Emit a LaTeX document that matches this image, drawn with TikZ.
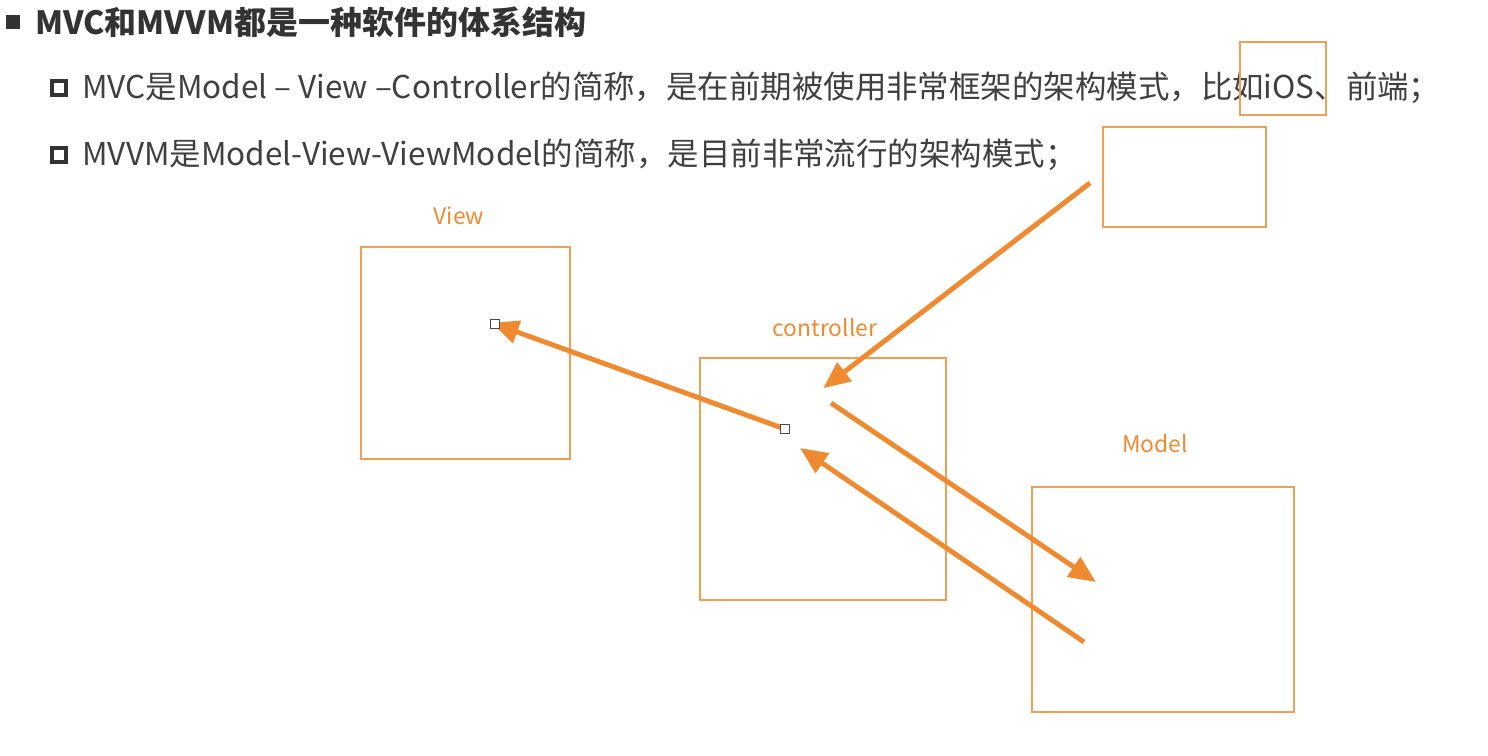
\documentclass[tikz,border=0pt]{standalone}
\usepackage{fontspec}
\setmainfont{Noto Sans CJK SC}
\usetikzlibrary{arrows.meta}
\definecolor{boxorange}{HTML}{F0A050}
\definecolor{arroworange}{HTML}{F08A30}
\definecolor{textgray}{HTML}{404040}
\tikzset{
  box/.style={draw=boxorange, line width=1.3pt, inner sep=0pt},
  boxlabel/.style={text=arroworange, font=\fontsize{13}{15}\selectfont, inner sep=0pt},
  flow/.style={draw=arroworange, line width=2.8pt,
    -{Triangle[length=0.54cm,width=0.46cm]}, shorten >=-2pt},
  bullet/.style={anchor=west, text=textgray, font=\fontsize{17.9}{21}\selectfont, inner sep=0pt},
  handle/.style={draw=black!70, fill=white, line width=0.5pt, minimum size=5pt, inner sep=0pt}
}
\begin{document}
\begin{tikzpicture}[x=0.02cm, y=-0.02cm]
    \useasboundingbox (0,0) rectangle (1488,756);

    % heading and the two points
    \fill[black!80] (6,15) rectangle (20,29);
    \node[bullet, text=black!80, font=\fontsize{18.2}{21}\selectfont\bfseries] (title) at (35,22) {MVC和MVVM都是一种软件的体系结构};
    \draw[black!80, line width=1.8pt] (52,81) rectangle (66,95);
    \node[bullet] (mvc) at (82,88) {MVC是Model – View –Controller的简称，是在前期被使用非常框架的架构模式，比如iOS、前端；};
    \draw[black!80, line width=1.8pt] (52,148) rectangle (66,162);
    \node[bullet] (mvvm) at (82,155) {MVVM是Model-View-ViewModel的简称，是目前非常流行的架构模式；};

    % boxes
    \node[box, minimum width=1.72cm, minimum height=1.46cm] (ios) at (1283,78.5) {};
    \node[box, minimum width=3.26cm, minimum height=2.0cm] (extra) at (1184.5,177) {};
    \node[box, minimum width=4.18cm, minimum height=4.24cm] (view) at (465.5,353) {};
    \node[box, minimum width=4.92cm, minimum height=4.84cm] (controller) at (823,479) {};
    \node[box, minimum width=5.24cm, minimum height=4.5cm] (model) at (1163,599.5) {};

    \node[boxlabel] (viewlabel) at (459,216) {View};
    \node[boxlabel] (controllerlabel) at (825,328) {controller};
    \node[boxlabel] (modellabel) at (1155,444) {Model};

    % arrow ends
    \coordinate (a1) at (1090,183);
    \coordinate (a2) at (826,386);
    \coordinate (b1) at (785,429);
    \coordinate (b2) at (495,324);
    \coordinate (c1) at (831,403);
    \coordinate (c2) at (1093,580);
    \coordinate (d1) at (1084,642);
    \coordinate (d2) at (803,450);

    \draw[flow] (a1) -- (a2);
    \draw[flow] (b1) -- (b2);
    \draw[flow] (c1) -- (c2);
    \draw[flow] (d1) -- (d2);

    \node[handle] (h1) at (b1) {};
    \node[handle] (h2) at (b2) {};
\end{tikzpicture}
\end{document}
